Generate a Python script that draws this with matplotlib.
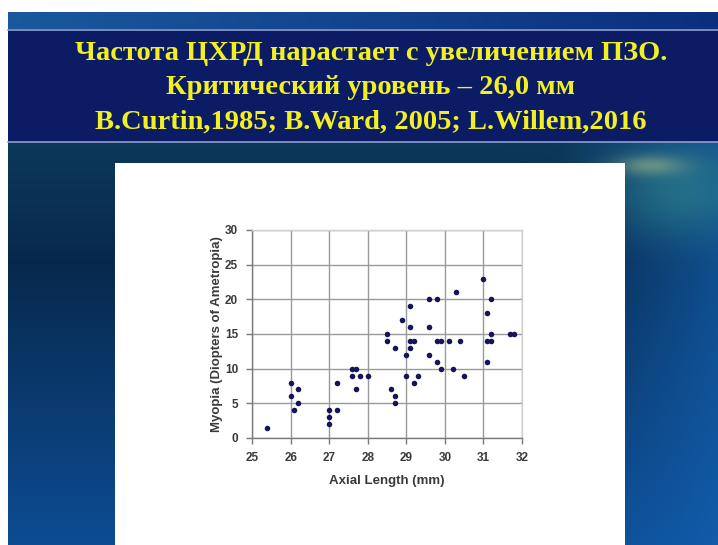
import numpy as np
import matplotlib
matplotlib.use("Agg")
import matplotlib.pyplot as plt
from matplotlib.patches import Rectangle

# ---- data ----
axial_length = [25.4, 26.0, 26.0, 26.1, 26.2, 26.2, 27.0, 27.0, 27.0, 27.2, 27.2,
                27.6, 27.7, 27.6, 27.8, 27.7, 28.0, 28.5, 28.5, 28.6, 28.7, 28.7,
                28.7, 28.9, 29.0, 29.0, 29.1, 29.1, 29.1, 29.1, 29.2, 29.2, 29.3,
                29.6, 29.6, 29.6, 29.8, 29.8, 29.8, 29.9, 29.9, 30.1, 30.2, 30.3,
                30.4, 30.5, 31.0, 31.1, 31.1, 31.1, 31.2, 31.2, 31.2, 31.7, 31.8]
myopia = [1.5, 8, 6, 4, 7, 5, 4, 3, 2, 8, 4,
          10, 10, 9, 9, 7, 9, 15, 14, 7, 13, 6,
          5, 17, 12, 9, 19, 16, 14, 13, 14, 8, 9,
          20, 16, 12, 20, 14, 11, 14, 10, 14, 10, 21,
          14, 9, 23, 18, 14, 11, 20, 15, 14, 15, 15]
x_ticks = [25, 26, 27, 28, 29, 30, 31, 32]
y_ticks = [0, 5, 10, 15, 20, 25, 30]
title_lines = ["Частота ЦХРД нарастает с увеличением ПЗО.",
               "Критический уровень – 26,0 мм",
               "B.Curtin,1985; B.Ward, 2005; L.Willem,2016"]
x_label = "Axial Length (mm)"
y_label = "Myopia (Diopters of Ametropia)"

W, H = 718, 545
fig = plt.figure(figsize=(W / 100, H / 100), dpi=100)
fig.patch.set_facecolor("white")

# ---- slide background ----
bg = fig.add_axes([0, 0, 1, 1])
bg.axis("off")

yy, xx = np.mgrid[0:H, 0:W].astype(float)
t = np.clip((yy - 140) / (H - 140), 0, 1)
top = np.array([0.05, 0.22, 0.35])
mid = np.array([0.03, 0.16, 0.30])
bot = np.array([0.05, 0.30, 0.58])
img = np.where(t[..., None] < 0.3,
               top + (mid - top) * (t[..., None] / 0.3),
               mid + (bot - mid) * ((t[..., None] - 0.3) / 0.7))
rb = np.clip((xx - 560) / 160, 0, 1)[..., None]
img = img * (1 - 0.6 * rb) + np.array([0.08, 0.40, 0.72]) * 0.6 * rb
g1 = np.exp(-(((xx - 680) / 70) ** 2 + ((yy - 190) / 45) ** 2))[..., None]
img = img * (1 - 0.55 * g1) + np.array([0.20, 0.55, 0.55]) * 0.55 * g1
g2 = np.exp(-(((xx - 650) / 35) ** 2 + ((yy - 165) / 10) ** 2))[..., None]
img = img * (1 - 0.45 * g2) + np.array([0.75, 0.80, 0.55]) * 0.45 * g2
img = np.clip(img, 0, 1)
bg.imshow(img, extent=(0, W, H, 0), aspect="auto", zorder=0)

band = np.zeros((20, W, 3))
bx = np.linspace(0, 1, W)
band[:] = (np.array([0.10, 0.35, 0.62]) * (1 - bx[:, None]) + np.array([0.05, 0.18, 0.50]) * bx[:, None])
bg.imshow(band, extent=(0, W, 30, 12), aspect="auto", zorder=1)

bg.add_patch(Rectangle((0, 0), W, 12, facecolor="white", edgecolor="none", zorder=2))
bg.add_patch(Rectangle((0, 0), 8, H, facecolor="white", edgecolor="none", zorder=2))

bg.add_patch(Rectangle((8, 29), W - 8, 113, facecolor="#0b1c64", edgecolor="none", zorder=3))
bg.plot([8, W], [29.5, 29.5], color="#8f9fcf", lw=1.2, zorder=4)
bg.plot([8, W], [141.5, 141.5], color="#8f9fcf", lw=1.2, zorder=4)

for i, line in enumerate(title_lines):
    bg.text(371, 53 + i * 34.5, line, ha="center", va="center", color="#f2ef22",
            fontsize=20.5, fontweight="bold", family=["Liberation Serif", "DejaVu Serif"],
            zorder=5)

bg.add_patch(Rectangle((115, 163), 510, H - 163, facecolor="white", edgecolor="none", zorder=3))
bg.set_xlim(0, W)
bg.set_ylim(H, 0)

# ---- scatter chart ----
ax = fig.add_axes([252 / W, 1 - 438 / H, 270 / W, 208 / H])
ax.set_facecolor("white")
ax.scatter(axial_length, myopia, s=16, color="#14145a", zorder=3, linewidths=0)
ax.set_xlim(25, 32)
ax.set_ylim(0, 30)
ax.set_xticks(x_ticks)
ax.set_yticks(y_ticks)
ax.grid(True, color="#9a9a9a", linewidth=1.0, zorder=1)
for s in ["left", "bottom"]:
    ax.spines[s].set_color("#7a7a7a")
    ax.spines[s].set_linewidth(1.0)
for s in ["top", "right"]:
    ax.spines[s].set_color("#d0d0d0")
    ax.spines[s].set_linewidth(1.0)
ax.tick_params(direction="out", length=4, width=1, color="#7a7a7a",
               labelcolor="#3a3a3a", labelsize=8.5, pad=6)
fam = ["Liberation Sans", "DejaVu Sans"]
for lab in ax.get_xticklabels() + ax.get_yticklabels():
    lab.set_family(fam)
    lab.set_fontweight("bold")
ax.set_xlabel(x_label, family=fam, fontweight="bold", fontsize=9.5,
              color="#3a3a3a", labelpad=8)
ax.set_ylabel(y_label, family=fam, fontweight="bold",
              fontsize=9.5, color="#3a3a3a", labelpad=1)

fig.savefig("out.png", dpi=100, facecolor=fig.get_facecolor())
